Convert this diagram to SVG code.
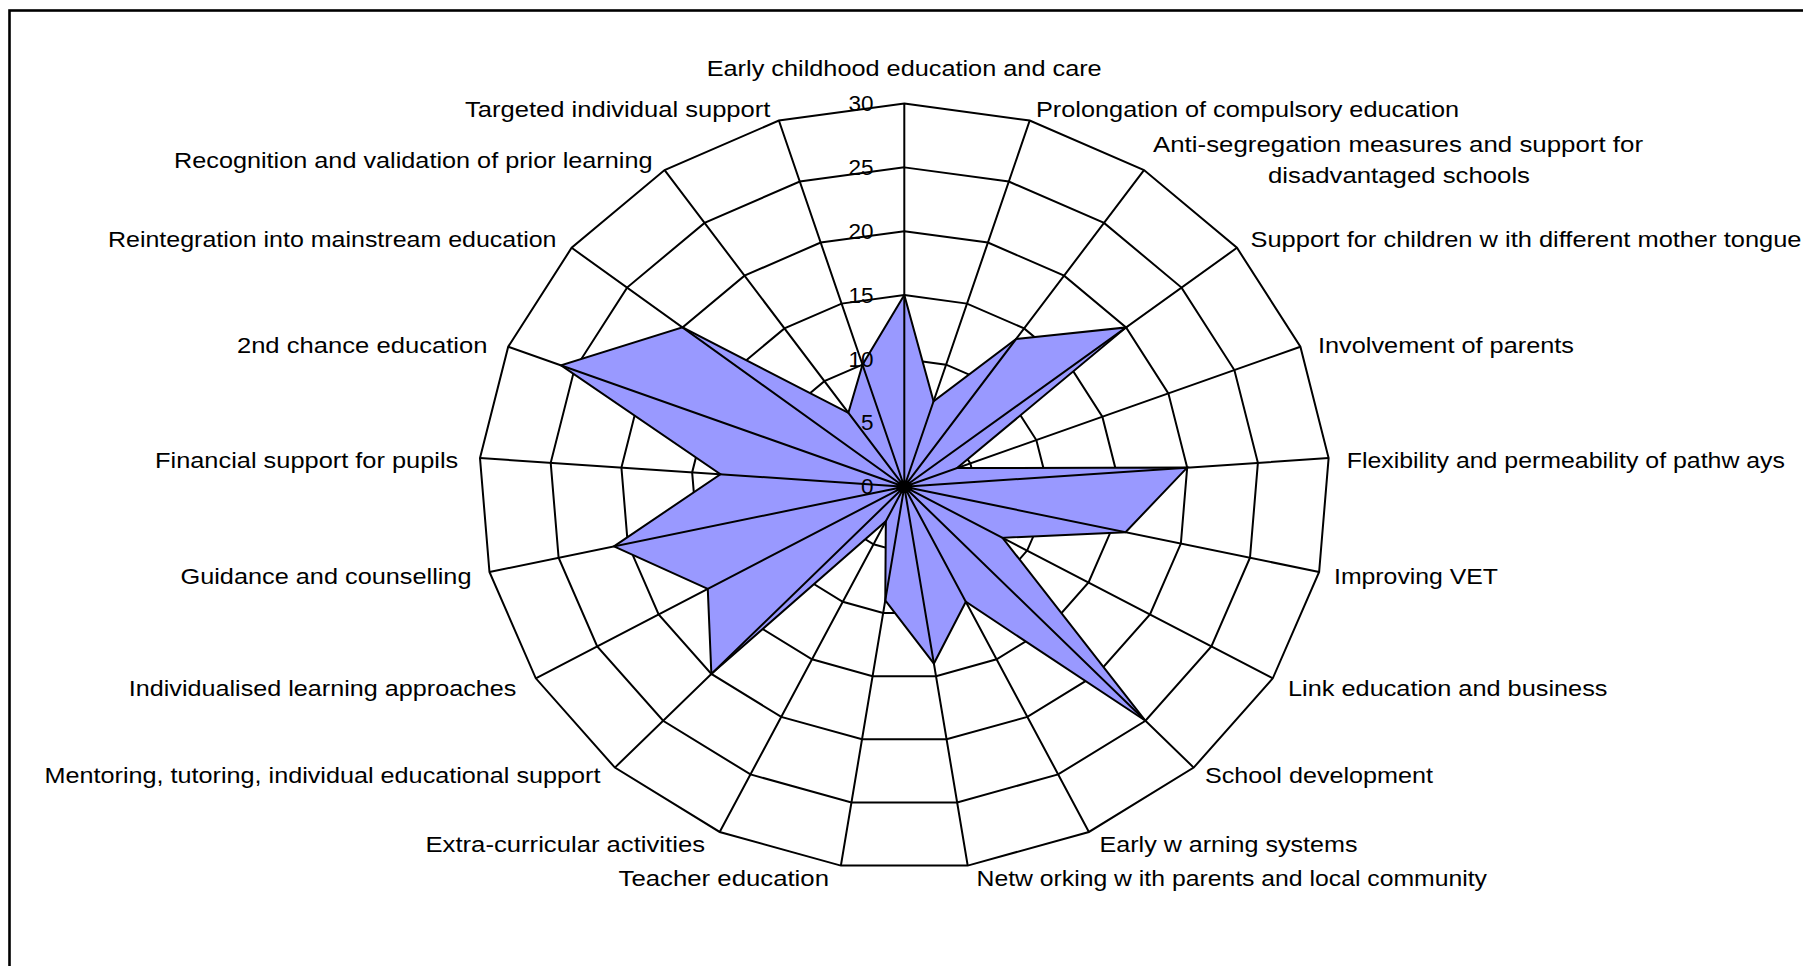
<svg xmlns="http://www.w3.org/2000/svg" xmlns:xlink="http://www.w3.org/1999/xlink" width="1803" height="966" viewBox="0 0 1803 966">
<style>
.lbl{font-family:"Liberation Sans",Arial,sans-serif;font-size:22.5px;fill:#000}
.tick{font-family:"Liberation Sans",Arial,sans-serif;font-size:22.5px;fill:#000;text-anchor:end}
.spk{fill:none;stroke:#000;stroke-width:2}
.series{fill:#9999FF;stroke:#000;stroke-width:2;stroke-linejoin:miter}
</style>
<defs>
<polygon id="outer" fill="none" stroke="#000" stroke-width="2" vector-effect="non-scaling-stroke" points="0,-383.2 125.42,-366.17 239.69,-316.61 332.67,-238.92 396.09,-140 424.31,-28.64 414.83,85.27 368.5,191.6 289.41,280.9 184.62,345.25 63.42,378.92 -63.42,378.92 -184.62,345.25 -289.41,280.9 -368.5,191.6 -414.83,85.27 -424.31,-28.64 -396.09,-140 -332.67,-238.92 -239.69,-316.61 -125.42,-366.17"/>
</defs>
<rect width="1803" height="966" fill="#fff"/>
<rect x="9.5" y="10.5" width="1900" height="1000" fill="none" stroke="#000" stroke-width="2.6"/>
<g id="grid" transform="translate(904.3,486.7)">
<use xlink:href="#outer" transform="scale(0.16667)"/>
<use xlink:href="#outer" transform="scale(0.33333)"/>
<use xlink:href="#outer" transform="scale(0.5)"/>
<use xlink:href="#outer" transform="scale(0.66667)"/>
<use xlink:href="#outer" transform="scale(0.83333)"/>
<use xlink:href="#outer"/>
</g>
<g id="series" transform="translate(904.3,486.7)">
<polygon class="series" points="0,-191.6 29.26,-85.44 111.86,-147.75 221.78,-159.28 52.81,-18.67 282.87,-19.09 221.24,45.48 98.27,51.09 241.18,234.08 61.54,115.08 29.6,176.83 -19.03,113.68 -18.46,34.53 -192.94,187.27 -196.53,102.19 -290.38,59.69 -183.87,-12.41 -343.28,-121.33 -221.78,-159.28 -55.93,-73.88 -41.81,-122.06"/>
</g>
<g id="connectors" transform="translate(904.3,486.7)">
<path class="spk" d="M0,0L0,-383.2M0,0L125.42,-366.17M0,0L239.69,-316.61M0,0L332.67,-238.92M0,0L396.09,-140M0,0L424.31,-28.64M0,0L414.83,85.27M0,0L368.5,191.6M0,0L289.41,280.9M0,0L184.62,345.25M0,0L63.42,378.92M0,0L-63.42,378.92M0,0L-184.62,345.25M0,0L-289.41,280.9M0,0L-368.5,191.6M0,0L-414.83,85.27M0,0L-424.31,-28.64M0,0L-396.09,-140M0,0L-332.67,-238.92M0,0L-239.69,-316.61M0,0L-125.42,-366.17"/>
</g>
<g id="ticks">
<text class="tick" x="873.5" y="111">30</text>
<text class="tick" x="873.5" y="174.9">25</text>
<text class="tick" x="873.5" y="238.7">20</text>
<text class="tick" x="873.5" y="302.6">15</text>
<text class="tick" x="873.5" y="366.5">10</text>
<text class="tick" x="873.5" y="430.3">5</text>
<text class="tick" x="873.5" y="494.2">0</text>
</g>
<g id="labels">
<g id="n0"><text class="lbl" x="706.7" y="76" textLength="395" lengthAdjust="spacingAndGlyphs">Early childhood education and care</text></g>
<g id="n1"><text class="lbl" x="1036" y="117" textLength="423" lengthAdjust="spacingAndGlyphs">Prolongation of compulsory education</text></g>
<g id="n2"><text class="lbl" x="1153" y="151.5" textLength="490" lengthAdjust="spacingAndGlyphs">Anti-segregation measures and support for</text><text class="lbl" x="1268" y="182.6" textLength="262" lengthAdjust="spacingAndGlyphs">disadvantaged schools</text></g>
<g id="n3"><text class="lbl" x="1250.5" y="247" textLength="551" lengthAdjust="spacingAndGlyphs">Support for children w ith different mother tongue</text></g>
<g id="n4"><text class="lbl" x="1318" y="352.8" textLength="256" lengthAdjust="spacingAndGlyphs">Involvement of parents</text></g>
<g id="n5"><text class="lbl" x="1346.7" y="468.3" textLength="438.3" lengthAdjust="spacingAndGlyphs">Flexibility and permeability of pathw ays</text></g>
<g id="n6"><text class="lbl" x="1334" y="584" textLength="164" lengthAdjust="spacingAndGlyphs">Improving VET</text></g>
<g id="n7"><text class="lbl" x="1288" y="695.5" textLength="319.5" lengthAdjust="spacingAndGlyphs">Link education and business</text></g>
<g id="n8"><text class="lbl" x="1205" y="783" textLength="228" lengthAdjust="spacingAndGlyphs">School development</text></g>
<g id="n9"><text class="lbl" x="1099.5" y="852" textLength="258" lengthAdjust="spacingAndGlyphs">Early w arning systems</text></g>
<g id="n10"><text class="lbl" x="976.5" y="886.4" textLength="510.5" lengthAdjust="spacingAndGlyphs">Netw orking w ith parents and local community</text></g>
<g id="n11"><text class="lbl" x="618.6" y="886.4" textLength="210.4" lengthAdjust="spacingAndGlyphs">Teacher education</text></g>
<g id="n12"><text class="lbl" x="425.5" y="852" textLength="279.5" lengthAdjust="spacingAndGlyphs">Extra-curricular activities</text></g>
<g id="n13"><text class="lbl" x="44.5" y="783" textLength="556" lengthAdjust="spacingAndGlyphs">Mentoring, tutoring, individual educational support</text></g>
<g id="n14"><text class="lbl" x="128.8" y="695.5" textLength="387.5" lengthAdjust="spacingAndGlyphs">Individualised learning approaches</text></g>
<g id="n15"><text class="lbl" x="180.5" y="584" textLength="291" lengthAdjust="spacingAndGlyphs">Guidance and counselling</text></g>
<g id="n16"><text class="lbl" x="155" y="468.3" textLength="303.3" lengthAdjust="spacingAndGlyphs">Financial support for pupils</text></g>
<g id="n17"><text class="lbl" x="236.9" y="352.8" textLength="250.6" lengthAdjust="spacingAndGlyphs">2nd chance education</text></g>
<g id="n18"><text class="lbl" x="108" y="247" textLength="448.5" lengthAdjust="spacingAndGlyphs">Reintegration into mainstream education</text></g>
<g id="n19"><text class="lbl" x="174" y="167.7" textLength="478.5" lengthAdjust="spacingAndGlyphs">Recognition and validation of prior learning</text></g>
<g id="n20"><text class="lbl" x="465" y="117" textLength="305.4" lengthAdjust="spacingAndGlyphs">Targeted individual support</text></g>
</g>
</svg>
